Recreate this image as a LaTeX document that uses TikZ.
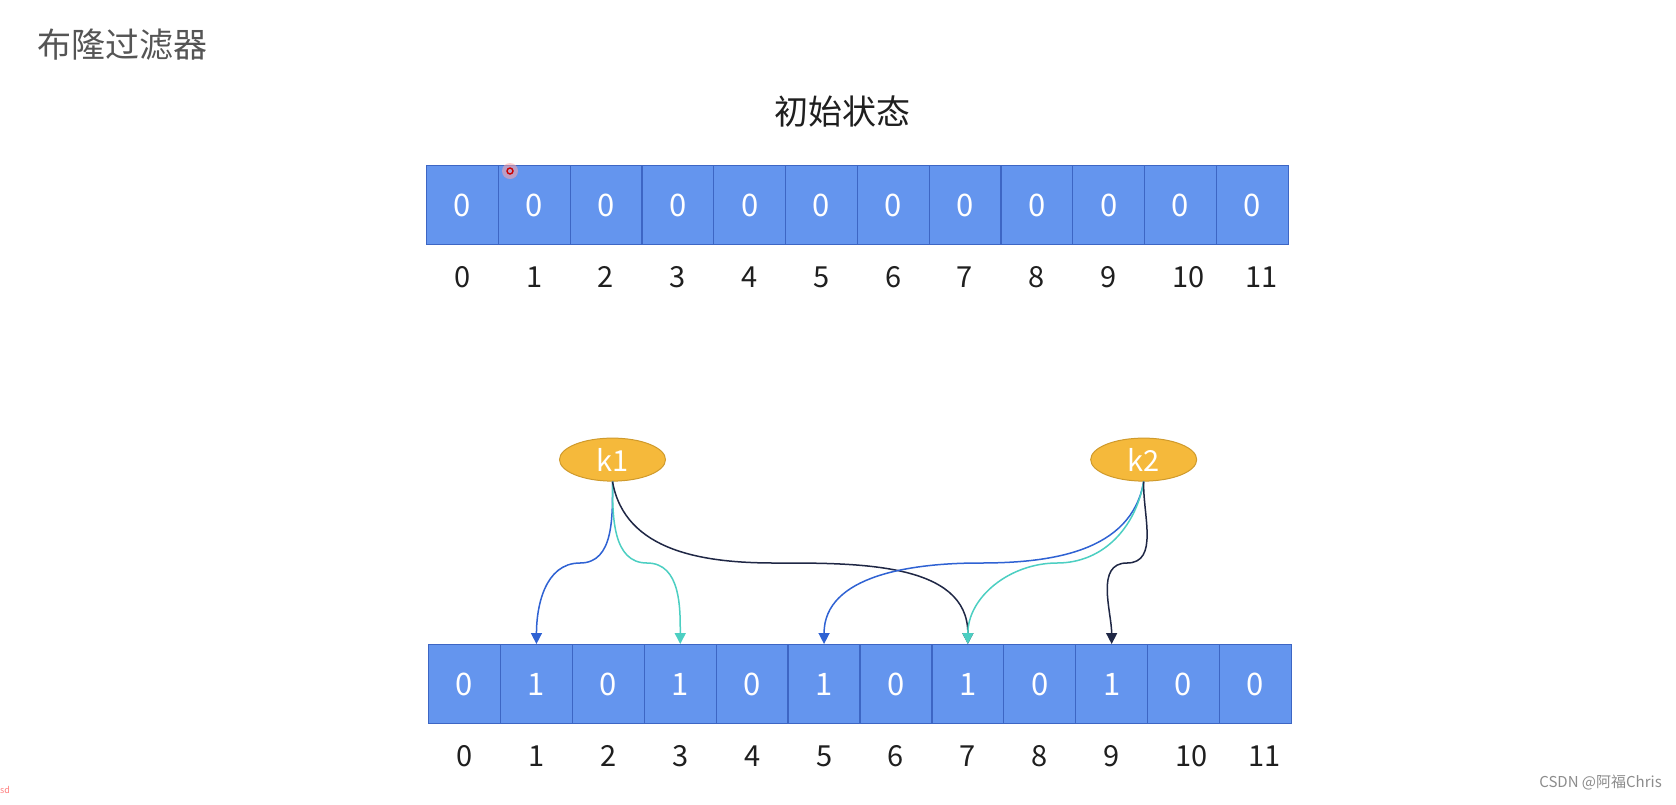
\documentclass[tikz,border=0pt]{standalone}
\usepackage{fontspec}
\setmainfont{Noto Sans CJK SC}
\usetikzlibrary{arrows.meta,shapes.geometric}
\definecolor{cellfill}{HTML}{6495EE}
\definecolor{celldraw}{HTML}{3D66C4}
\definecolor{keyfill}{HTML}{F5B93B}
\definecolor{keydraw}{HTML}{CF9A2C}
\definecolor{ablue}{HTML}{2F62D3}
\definecolor{ateal}{HTML}{4CCFC2}
\definecolor{anavy}{HTML}{1F2745}
\definecolor{titlegray}{HTML}{555555}
\begin{document}
\begin{tikzpicture}[x=1pt,y=-1pt,
  cell/.style={draw=celldraw,line width=1.2pt,fill=cellfill,minimum width=71.8pt,minimum height=79pt,inner sep=0pt,text=white,font=\fontsize{31}{34}\selectfont},
  idx/.style={inner sep=0pt,text=black!88,font=\fontsize{29}{32}\selectfont},
  key/.style={ellipse,draw=keydraw,line width=1pt,fill=keyfill,minimum width=106pt,minimum height=43pt,inner sep=0pt,text=white,font=\fontsize{29}{32}\selectfont},
  link/.style={line width=1.5pt,-{Triangle[length=11pt,width=11pt]}}
]
\useasboundingbox (0,0) rectangle (1676,804);
\fill[white] (0,0) rectangle (1676,804);

\node[anchor=west,inner sep=0pt,text=titlegray,font=\fontsize{34}{38}\selectfont] (title) at (37,45) {布隆过滤器};
\node[inner sep=0pt,text=black!88,font=\fontsize{34}{38}\selectfont] (sub) at (842,112) {初始状态};

% top array
\foreach \i in {0,...,11}{
  \node[cell] (t\i) at ({426.5+71.8*\i+35.9},205.3) {0};
}
\foreach \i/\s in {0/0,1/0,2/0,3/0,4/0,5/0,6/0,7/0,8/0,9/0,10/8,11/9}{
  \node[idx] (tl\i) at ({426.5+71.8*\i+35.9+\s},277) {\i};
}

% bottom array
\foreach \i/\v in {0/0,1/1,2/0,3/1,4/0,5/1,6/0,7/1,8/0,9/1,10/0,11/0}{
  \node[cell] (b\i) at ({428.6+71.9*\i+35.95},684.1) {\v};
}
\foreach \i/\s in {0/0,1/0,2/0,3/0,4/0,5/0,6/0,7/0,8/0,9/0,10/8,11/9}{
  \node[idx] (bl\i) at ({428.6+71.9*\i+35.95+\s},756) {\i};
}

% keys
\node[key] (k1) at (612.5,459.6) {k1};
\node[key] (k2) at (1143.7,459.6) {k2};

% midpoints
\coordinate (m11) at (580,563);
\coordinate (m13) at (647,563);
\coordinate (m17) at (775,563);
\coordinate (m25) at (980,563);
\coordinate (m27) at (1057,563);
\coordinate (m29) at (1127,563);

\draw[link,ablue] (k1.south) to[out=-90,in=0] (m11) to[out=180,in=90] (b1.north);
\draw[link,ateal] (k1.south) to[out=-90,in=180] (m13) to[out=0,in=90] (b3.north);
\draw[link,anavy] (k1.south) to[out=-80,in=180] (m17) to[out=0,in=90] (b7.north);
\draw[link,ablue] (k2.south) to[out=-100,in=0] (m25) to[out=180,in=90] (b5.north);
\draw[link,ateal] (k2.south) to[out=-100,in=0] (m27) to[out=180,in=90] (b7.north);
\draw[link,anavy] (k2.south) to[out=-92,in=0] (m29) to[out=180,in=90] (b9.north);

% cursor mark
\fill[red!35,opacity=0.55] (510,171) circle (8);
\draw[red!80!black,line width=1.4pt] (510,171) circle (3);

% watermark and fragment
\node[anchor=east,inner sep=0pt,text=black!45,font=\fontsize{15}{17}\selectfont] (wm) at (1662,783) {CSDN @阿福Chris};
\node[anchor=west,inner sep=0pt,text=red!50,font=\fontsize{9}{10}\selectfont] (frag) at (0,790) {sd};
\end{tikzpicture}
\end{document}
